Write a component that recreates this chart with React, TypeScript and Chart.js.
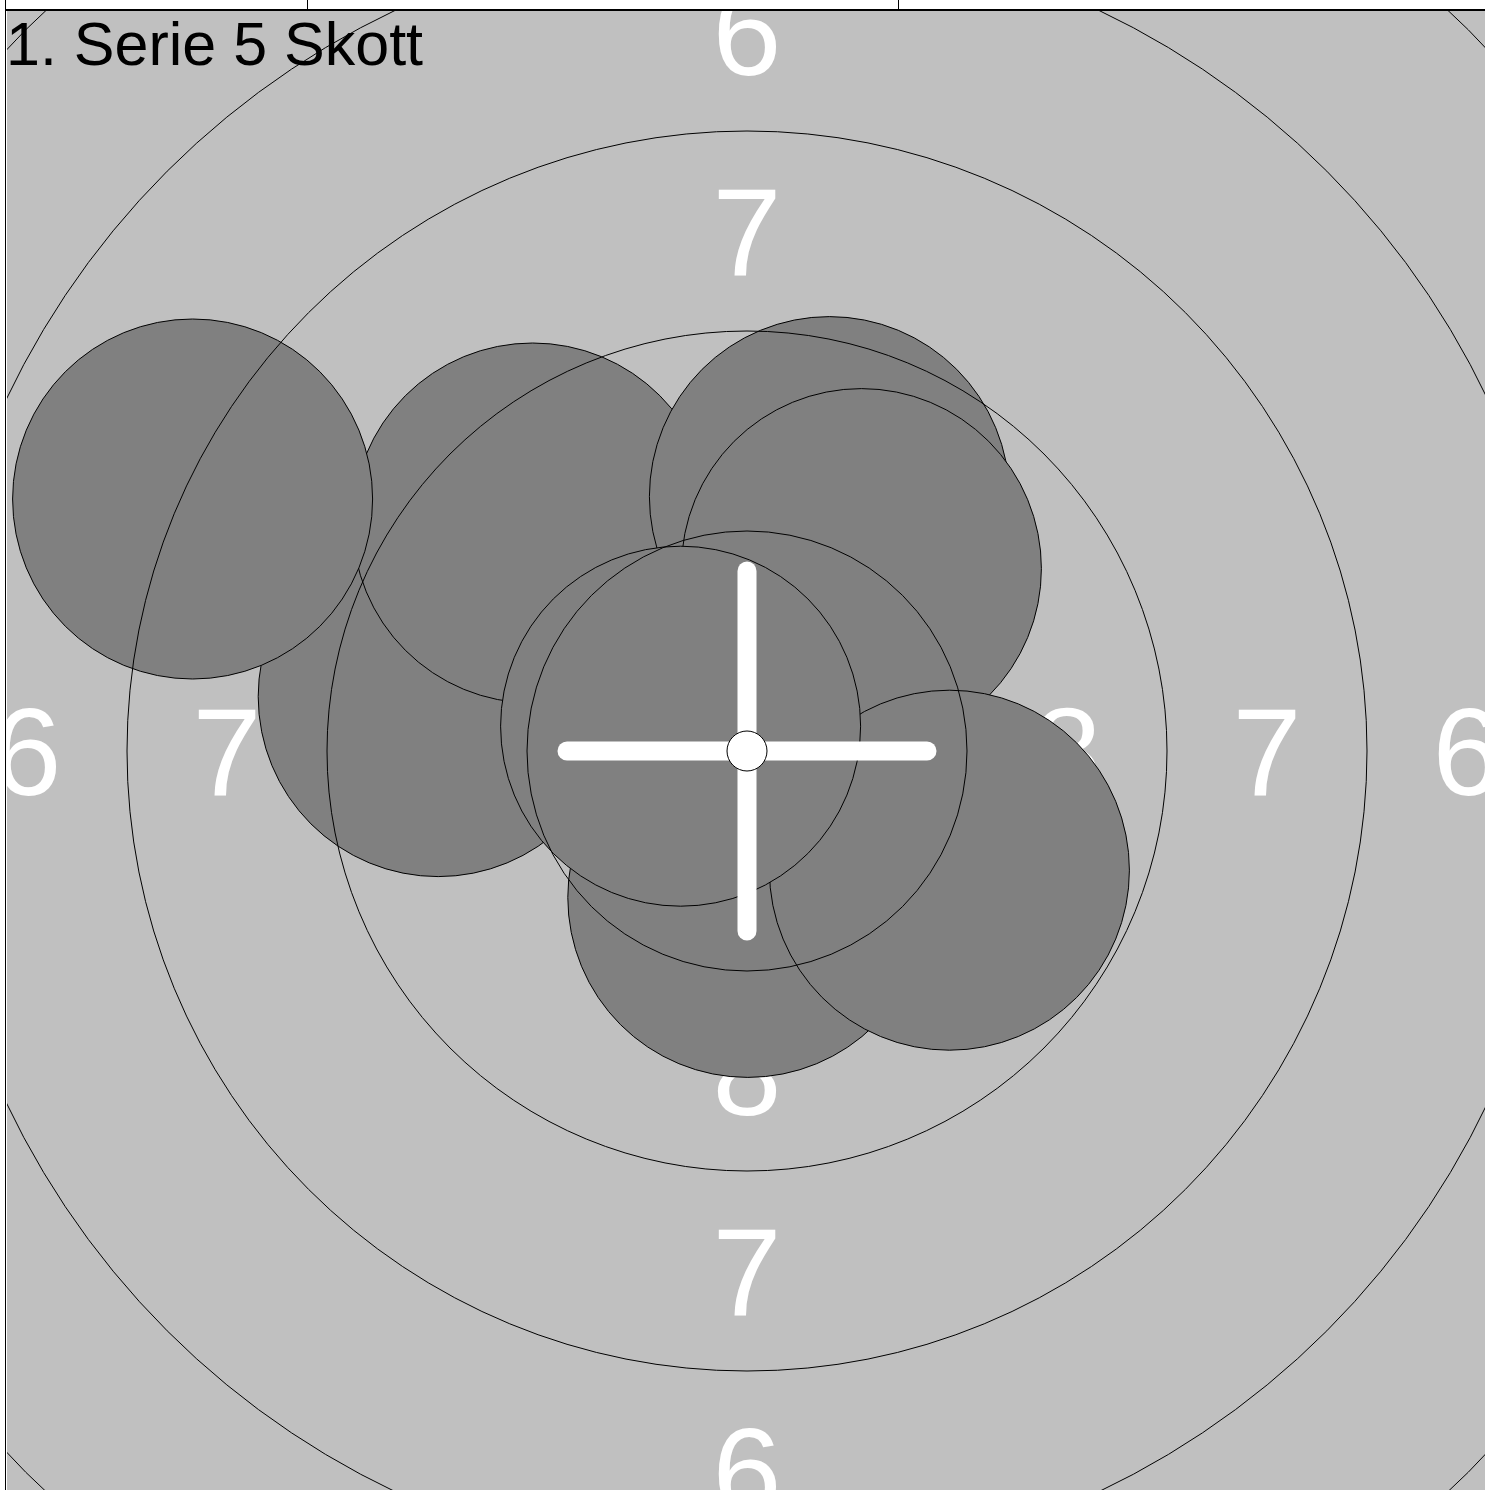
import React, { useEffect, useRef } from "react";
import { Chart, registerables } from "chart.js";

Chart.register(...registerables);

// Target geometry (mm) — 10m air rifle target
const RING_RADII = [2.75, 5.25, 7.75, 10.25, 12.75];
const RING_LABELS = ["8", "7", "6"];
const LABEL_RADII = [4.0, 6.5, 9.0];
const CENTER_DOT_R = 0.25;
const SHOT_R = 2.25;
const CROSS_ARM = 2.25;

// Shot positions (mm from target centre), in drawing order
const SHOT_X = [-3.86, -2.68, -6.93, 1.03, 1.43, 0.01, 2.53, -0.83];
const SHOT_Y = [0.68, 2.85, 3.15, 3.18, 2.28, -1.83, -1.49, 0.31];

const TITLE = "1. Serie 5 Skott";

const ppm = (chart: any) => {
  const xs = chart.scales.x;
  return xs.getPixelForValue(1) - xs.getPixelForValue(0);
};

const targetPlugin = {
  id: "targetPlugin",
  beforeDraw(chart: any) {
    const { ctx, chartArea: a } = chart;
    ctx.save();
    ctx.fillStyle = "#ffffff";
    ctx.fillRect(0, 0, chart.width, chart.height);
    ctx.fillStyle = "#c0c0c0";
    ctx.fillRect(a.left, a.top, a.right - a.left, a.bottom - a.top);
    ctx.restore();
  },
  beforeDatasetsDraw(chart: any) {
    const { ctx, chartArea: a, scales } = chart;
    ctx.save();
    ctx.beginPath();
    ctx.rect(a.left, a.top, a.right - a.left, a.bottom - a.top);
    ctx.clip();
    const size = 124;
    ctx.font = `${size}px "Liberation Sans", Arial, sans-serif`;
    ctx.fillStyle = "#ffffff";
    ctx.textAlign = "center";
    ctx.textBaseline = "alphabetic";
    const capHalf = (size * 0.716) / 2;
    RING_LABELS.forEach((lab, i) => {
      const r = LABEL_RADII[i];
      const pts = [
        [0, r],
        [0, -r],
        [r, 0],
        [-r, 0],
      ];
      pts.forEach(([vx, vy]) => {
        const px = scales.x.getPixelForValue(vx);
        const py = scales.y.getPixelForValue(vy);
        ctx.fillText(lab, px, py + capHalf);
      });
    });
    ctx.restore();
  },
  afterDraw(chart: any) {
    const { ctx } = chart;
    ctx.save();
    // frame lines
    ctx.fillStyle = "#000000";
    ctx.fillRect(5, 9, chart.width - 5, 2);
    ctx.fillRect(5, 0, 1, chart.height);
    ctx.fillRect(307, 0, 1, 10);
    ctx.fillRect(898, 0, 1, 10);
    ctx.fillStyle = "#ffffff";
    ctx.fillRect(6, 11, 1, chart.height - 11);
    // title
    ctx.fillStyle = "#000000";
    ctx.font = `61px "Liberation Sans", Arial, sans-serif`;
    ctx.textAlign = "left";
    ctx.textBaseline = "alphabetic";
    ctx.fillText(TITLE, 6, 65);
    ctx.restore();
  },
};

export default function App() {
  const ref = useRef<HTMLCanvasElement | null>(null);

  useEffect(() => {
    const canvas = ref.current;
    if (!canvas) return;
    const shots = SHOT_X.map((x, i) => ({ x, y: SHOT_Y[i] }));
    const rings = RING_RADII.map(() => ({ x: 0, y: 0 }));

    const chart = new Chart(canvas, {
      type: "scatter",
      data: {
        datasets: [
          {
            label: "center",
            data: [{ x: 0, y: 0 }],
            order: 1,
            clip: 0,
            pointRadius: (c: any) => CENTER_DOT_R * ppm(c.chart),
            pointBackgroundColor: "#ffffff",
            pointBorderColor: "#000000",
            pointBorderWidth: 1,
            showLine: false,
          },
          {
            label: "crossH",
            data: [
              { x: -CROSS_ARM, y: 0 },
              { x: CROSS_ARM, y: 0 },
            ],
            order: 2,
            clip: 0,
            showLine: true,
            borderColor: "#ffffff",
            borderWidth: 19,
            borderCapStyle: "round",
            pointRadius: 0,
          },
          {
            label: "crossV",
            data: [
              { x: 0, y: -CROSS_ARM },
              { x: 0, y: CROSS_ARM },
            ],
            order: 2,
            clip: 0,
            showLine: true,
            borderColor: "#ffffff",
            borderWidth: 19,
            borderCapStyle: "round",
            pointRadius: 0,
          },
          {
            label: "rings",
            data: rings,
            order: 3,
            clip: 0,
            pointRadius: (c: any) => RING_RADII[c.dataIndex] * ppm(c.chart),
            pointBackgroundColor: "rgba(0,0,0,0)",
            pointBorderColor: "#000000",
            pointBorderWidth: 1,
            showLine: false,
          },
          {
            label: "shots",
            data: shots,
            order: 4,
            clip: 0,
            pointRadius: (c: any) => SHOT_R * ppm(c.chart),
            pointBackgroundColor: "#808080",
            pointBorderColor: "#000000",
            pointBorderWidth: 1,
            showLine: false,
          },
        ],
      },
      options: {
        animation: false,
        responsive: false,
        events: [],
        devicePixelRatio: 1,
        layout: { padding: { left: 7, top: 11, right: 0, bottom: 0 } },
        scales: {
          x: { type: "linear", min: -9.25, max: 9.225, display: false },
          y: { type: "linear", min: -9.2375, max: 9.25, display: false },
        },
        plugins: {
          legend: { display: false },
          tooltip: { enabled: false },
          title: { display: false },
        },
      } as any,
      plugins: [targetPlugin],
    } as any);

    return () => chart.destroy();
  }, []);

  return (
    <div style={{ position: "absolute", left: 0, top: 0, width: 1485, height: 1490 }}>
      <canvas ref={ref} width={1485} height={1490} style={{ display: "block" }} />
    </div>
  );
}
